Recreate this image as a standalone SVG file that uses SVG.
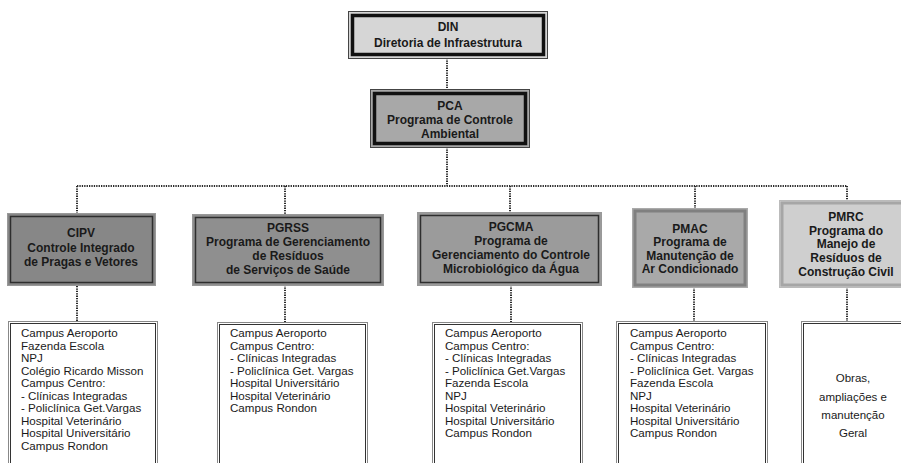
<svg xmlns="http://www.w3.org/2000/svg" width="901" height="463" viewBox="0 0 901 463">
<style>
.h{font-family:"Liberation Sans",Arial,sans-serif;font-weight:bold;font-size:12px;fill:#1a1a1a;text-anchor:middle}
.t{font-family:"Liberation Sans",Arial,sans-serif;font-size:11.6px;fill:#1a1a1a}
.c{font-family:"Liberation Sans",Arial,sans-serif;font-size:11.5px;fill:#1a1a1a;text-anchor:middle}
.dot{fill:none;stroke:#2a2a2a;stroke-width:2;stroke-dasharray:1.3 1.1}
.o{stroke:#444;stroke-width:1}
.thick{fill:none;stroke:#111;stroke-width:3.5}
.po{stroke:#999;stroke-width:1}
.pi{fill:none;stroke:#2e2e2e;stroke-width:1.5}
.lo{fill:#fff;stroke:#888;stroke-width:1}
.li{fill:none;stroke:#333;stroke-width:1}
</style>
<rect width="901" height="463" fill="#fff"/>
<g id="connectors">
<line class="dot" x1="447" y1="58" x2="447" y2="89"/>
<line class="dot" x1="447" y1="147" x2="447" y2="186"/>
<line class="dot" x1="77" y1="186" x2="847" y2="186"/>
<line class="dot" x1="77" y1="186" x2="77" y2="213"/>
<line class="dot" x1="285" y1="186" x2="285" y2="214"/>
<line class="dot" x1="510" y1="186" x2="510" y2="212"/>
<line class="dot" x1="695" y1="186" x2="695" y2="208"/>
<line class="dot" x1="847" y1="186" x2="847" y2="201"/>
<line class="dot" x1="77" y1="286" x2="77" y2="321"/>
<line class="dot" x1="285" y1="285" x2="285" y2="322"/>
<line class="dot" x1="511" y1="285" x2="511" y2="322"/>
<line class="dot" x1="694" y1="287" x2="694" y2="321"/>
<line class="dot" x1="847" y1="287" x2="847" y2="321"/>
</g>
<g id="din">
<rect x="348.5" y="11.5" width="199" height="47" fill="#d6d6d6" class="o"/>
<rect x="352.5" y="15.5" width="191" height="39" class="thick"/>
<text class="h" x="448" y="31">DIN</text>
<text class="h" x="448" y="47">Diretoria de Infraestrutura</text>
</g>
<g id="pca">
<rect x="370.5" y="89.5" width="159" height="58" fill="#a8a8a8" class="o"/>
<rect x="374.5" y="93.5" width="151" height="50" class="thick"/>
<text class="h" x="450" y="110">PCA</text>
<text class="h" x="450" y="124">Programa de Controle</text>
<text class="h" x="450" y="138">Ambiental</text>
</g>
<g id="cipv">
<rect x="7.5" y="213.5" width="148" height="72" fill="#878787" class="po"/>
<rect x="10.5" y="216.5" width="142" height="66" class="pi"/>
<text class="h" x="81" y="237">CIPV</text>
<text class="h" x="81" y="252">Controle Integrado</text>
<text class="h" x="81" y="266">de Pragas e Vetores</text>
</g>
<g id="pgrss">
<rect x="192.5" y="214.5" width="191" height="71" fill="#8f8f8f" class="po"/>
<rect x="195.5" y="217.5" width="185" height="65" class="pi"/>
<text class="h" x="288" y="232">PGRSS</text>
<text class="h" x="288" y="246">Programa de Gerenciamento</text>
<text class="h" x="288" y="260">de Resíduos</text>
<text class="h" x="288" y="274">de Serviços de Saúde</text>
</g>
<g id="pgcma">
<rect x="417.5" y="212.5" width="184" height="73" fill="#9b9b9b" class="po"/>
<rect x="420.5" y="215.5" width="178" height="67" class="pi"/>
<text class="h" x="511" y="231">PGCMA</text>
<text class="h" x="511" y="245">Programa de</text>
<text class="h" x="511" y="259">Gerenciamento do Controle</text>
<text class="h" x="511" y="273">Microbiológico da Água</text>
</g>
<g id="pmac">
<rect x="632.5" y="208.5" width="115" height="79" fill="#a9a9a9" stroke="#aaa" stroke-width="1"/>
<rect x="635" y="211" width="110" height="74" fill="none" stroke="#808080" stroke-width="3"/>
<text class="h" x="690" y="233">PMAC</text>
<text class="h" x="690" y="246">Programa de</text>
<text class="h" x="690" y="260">Manutenção de</text>
<text class="h" x="690" y="273">Ar Condicionado</text>
</g>
<g id="pmrc">
<rect x="779.5" y="200.5" width="134" height="87" fill="#cfcfcf" stroke="#bbb" stroke-width="1"/>
<rect x="782" y="203" width="129" height="82" fill="none" stroke="#a6a6a6" stroke-width="3"/>
<text class="h" x="846" y="221">PMRC</text>
<text class="h" x="846" y="235">Programa do</text>
<text class="h" x="846" y="248">Manejo de</text>
<text class="h" x="846" y="262">Resíduos de</text>
<text class="h" x="846" y="276">Construção Civil</text>
</g>
<g id="list-cipv">
<rect x="8.5" y="321.5" width="149" height="150" class="lo"/>
<rect x="10.5" y="323.5" width="145" height="150" class="li"/>
<text class="t" x="21" y="337">Campus Aeroporto</text>
<text class="t" x="21" y="349.5">Fazenda Escola</text>
<text class="t" x="21" y="362">NPJ</text>
<text class="t" x="21" y="374.5">Colégio Ricardo Misson</text>
<text class="t" x="21" y="387">Campus Centro:</text>
<text class="t" x="21" y="399.5">- Clínicas Integradas</text>
<text class="t" x="21" y="412">- Policlínica Get.Vargas</text>
<text class="t" x="21" y="424.5">Hospital Veterinário</text>
<text class="t" x="21" y="437">Hospital Universitário</text>
<text class="t" x="21" y="449.5">Campus Rondon</text>
</g>
<g id="list-pgrss">
<rect x="217.5" y="322.5" width="150" height="150" class="lo"/>
<rect x="219.5" y="324.5" width="146" height="150" class="li"/>
<text class="t" x="230" y="337">Campus Aeroporto</text>
<text class="t" x="230" y="349.5">Campus Centro:</text>
<text class="t" x="230" y="362">- Clínicas Integradas</text>
<text class="t" x="230" y="374.5">- Policlínica Get. Vargas</text>
<text class="t" x="230" y="387">Hospital Universitário</text>
<text class="t" x="230" y="399.5">Hospital Veterinário</text>
<text class="t" x="230" y="412">Campus Rondon</text>
</g>
<g id="list-pgcma">
<rect x="432.5" y="322.5" width="150" height="150" class="lo"/>
<rect x="434.5" y="324.5" width="146" height="150" class="li"/>
<text class="t" x="445" y="337">Campus Aeroporto</text>
<text class="t" x="445" y="349.5">Campus Centro:</text>
<text class="t" x="445" y="362">- Clínicas Integradas</text>
<text class="t" x="445" y="374.5">- Policlínica Get.Vargas</text>
<text class="t" x="445" y="387">Fazenda Escola</text>
<text class="t" x="445" y="399.5">NPJ</text>
<text class="t" x="445" y="412">Hospital Veterinário</text>
<text class="t" x="445" y="424.5">Hospital Universitário</text>
<text class="t" x="445" y="437">Campus Rondon</text>
</g>
<g id="list-pmac">
<rect x="616.5" y="321.5" width="151" height="150" class="lo"/>
<rect x="618.5" y="323.5" width="147" height="150" class="li"/>
<text class="t" x="630" y="337">Campus Aeroporto</text>
<text class="t" x="630" y="349.5">Campus Centro:</text>
<text class="t" x="630" y="362">- Clínicas Integradas</text>
<text class="t" x="630" y="374.5">- Policlínica Get. Vargas</text>
<text class="t" x="630" y="387">Fazenda Escola</text>
<text class="t" x="630" y="399.5">NPJ</text>
<text class="t" x="630" y="412">Hospital Veterinário</text>
<text class="t" x="630" y="424.5">Hospital Universitário</text>
<text class="t" x="630" y="437">Campus Rondon</text>
</g>
<g id="list-pmrc">
<rect x="801.5" y="321.5" width="106" height="150" class="lo"/>
<rect x="803.5" y="323.5" width="102" height="150" class="li"/>
<text class="c" x="853" y="382">Obras,</text>
<text class="c" x="853" y="401">ampliações e</text>
<text class="c" x="853" y="419">manutenção</text>
<text class="c" x="853" y="437">Geral</text>
</g>
</svg>
